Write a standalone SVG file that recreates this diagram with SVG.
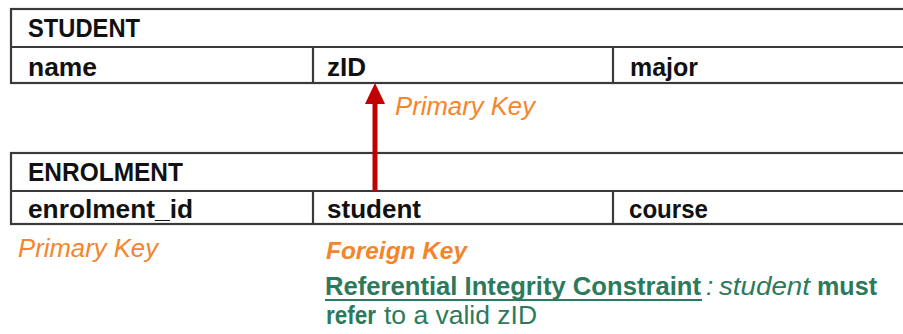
<svg xmlns="http://www.w3.org/2000/svg" width="903" height="334" viewBox="0 0 903 334">
  <defs>
    <style>
      .frame { fill: none; stroke: #3a3a3a; stroke-width: 2.2; }
      .cell { font-family: "Liberation Sans", Arial, sans-serif; font-weight: bold; font-size: 25px; fill: #111; }
      .key { font-family: "Liberation Sans", Arial, sans-serif; font-style: italic; font-size: 25px; fill: #F5842A; }
      .fk { font-size: 23px; font-weight: bold; }
      .note { font-family: "Liberation Sans", Arial, sans-serif; font-size: 26px; fill: #2B7A5C; }
      .b { font-weight: bold; }
      .i { font-style: italic; }
      .link { stroke: #C00000; stroke-width: 5; fill: none; }
    </style>
  </defs>
  <rect width="903" height="334" fill="#ffffff"/>

  <!-- STUDENT relation -->
  <g id="student">
    <rect class="frame" x="11" y="9" width="900" height="74"/>
    <line class="frame" x1="11" y1="47" x2="911" y2="47"/>
    <line class="frame" x1="313" y1="47" x2="313" y2="83"/>
    <line class="frame" x1="613" y1="47" x2="613" y2="83"/>
    <text class="cell" x="28" y="37" textLength="112" lengthAdjust="spacingAndGlyphs">STUDENT</text>
    <text class="cell" x="28" y="76" textLength="69" lengthAdjust="spacingAndGlyphs">name</text>
    <text class="cell" x="327" y="76" textLength="39" lengthAdjust="spacingAndGlyphs">zID</text>
    <text class="cell" x="630" y="76" textLength="68" lengthAdjust="spacingAndGlyphs">major</text>
  </g>

  <!-- ENROLMENT relation -->
  <g id="enrolment">
    <rect class="frame" x="11" y="153" width="900" height="71"/>
    <line class="frame" x1="11" y1="191" x2="911" y2="191"/>
    <line class="frame" x1="313" y1="191" x2="313" y2="224"/>
    <line class="frame" x1="613" y1="191" x2="613" y2="224"/>
    <text class="cell" x="28" y="181" textLength="155" lengthAdjust="spacingAndGlyphs">ENROLMENT</text>
    <text class="cell" x="28" y="218" textLength="165" lengthAdjust="spacingAndGlyphs">enrolment_id</text>
    <text class="cell" x="327" y="218" textLength="94" lengthAdjust="spacingAndGlyphs">student</text>
    <text class="cell" x="629" y="218" textLength="79" lengthAdjust="spacingAndGlyphs">course</text>
  </g>

  <!-- foreign key reference: student -> zID -->
  <g id="connectors">
    <line class="link" x1="375" y1="191" x2="375" y2="101"/>
    <polygon points="375,83 365,104 385,104" fill="#C00000"/>
  </g>

  <!-- key annotations -->
  <g id="labels">
    <text class="key" x="395" y="115" textLength="140" lengthAdjust="spacingAndGlyphs">Primary Key</text>
    <text class="key" x="18" y="257" textLength="140" lengthAdjust="spacingAndGlyphs">Primary Key</text>
    <text class="key fk" x="326" y="259" textLength="141" lengthAdjust="spacingAndGlyphs">Foreign Key</text>
    <text class="note" y="295">
      <tspan class="b" x="325" textLength="376" lengthAdjust="spacingAndGlyphs">Referential Integrity Constraint</tspan><tspan class="i" x="706">:</tspan><tspan class="i" x="719" textLength="91" lengthAdjust="spacingAndGlyphs">student</tspan><tspan class="b" x="817" textLength="60" lengthAdjust="spacingAndGlyphs">must</tspan>
    </text>
    <line x1="325" y1="300" x2="702" y2="300" stroke="#2B7A5C" stroke-width="2"/>
    <text class="note" y="324">
      <tspan class="b" x="326" textLength="50" lengthAdjust="spacingAndGlyphs">refer</tspan><tspan x="384" textLength="153" lengthAdjust="spacingAndGlyphs">to a valid zID</tspan>
    </text>
  </g>
</svg>
